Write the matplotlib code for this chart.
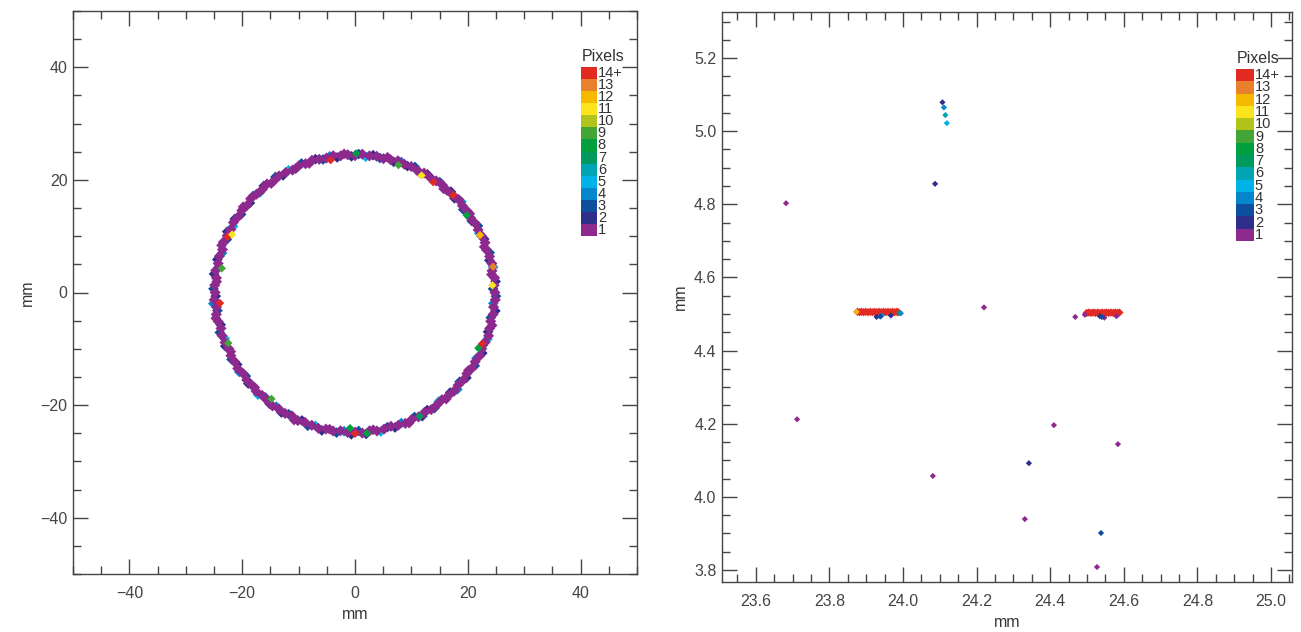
import matplotlib
matplotlib.use('Agg')
import matplotlib.pyplot as plt
from matplotlib.ticker import MultipleLocator, FormatStrFormatter
import numpy as np

plt.rcParams['font.family'] = ['Liberation Sans', 'DejaVu Sans']
plt.rcParams['text.color'] = '#333333'
plt.rcParams['axes.labelcolor'] = '#333333'
plt.rcParams['xtick.color'] = '#444444'
plt.rcParams['ytick.color'] = '#444444'

# colour key: pixel count 1 .. 14+
count_labels = ['1', '2', '3', '4', '5', '6', '7', '8', '9', '10', '11', '12', '13', '14+']
count_colors = ['#8e2a8e', '#2e2f8a', '#0d4f9e', '#0586cc', '#00b2e6', '#00a4b4', '#009a5e',
                '#00a040', '#42a536', '#b0c41a', '#f9e41e', '#f5b900', '#e8802c', '#e02a22']

# left panel: ring of event positions (angle in deg, radius in mm, pixel count)
ringa_angle = [0, 3, 6, 9, 12, 15, 18, 21, 24, 27, 30, 33, 36, 39, 42, 45, 48, 51, 54, 57,
               60, 63, 66, 69, 72, 75, 78, 81, 84, 87, 90, 93, 96, 99, 102, 105, 108, 111, 114, 117,
               120, 123, 126, 129, 132, 135, 138, 141, 144, 147, 150, 153, 156, 159, 162, 165, 168, 171, 174, 177,
               180, 183, 186, 189, 192, 195, 198, 201, 204, 207, 210, 213, 216, 219, 222, 225, 228, 231, 234, 237,
               240, 243, 246, 249, 252, 255, 258, 261, 264, 267, 270, 273, 276, 279, 282, 285, 288, 291, 294, 297,
               300, 303, 306, 309, 312, 315, 318, 321, 324, 327, 330, 333, 336, 339, 342, 345, 348, 351, 354, 357]
ringa_radius = [24.8, 24.7, 24.9, 24.6, 24.8, 24.7, 24.5, 24.7, 24.6, 24.5,
                24.6, 24.4, 24.6, 24.5, 24.7, 24.5, 24.4, 24.6, 24.5, 24.4,
                24.5, 24.3, 24.5, 24.4, 24.6, 24.4, 24.3, 24.5, 24.4, 24.6,
                24.3, 24.5, 24.4, 24.6, 24.4, 24.5, 24.7, 24.5, 24.6, 24.4,
                24.6, 24.7, 24.5, 24.8, 24.6, 24.7, 24.9, 24.6, 24.8, 24.7,
                24.9, 24.7, 24.8, 25.0, 24.7, 24.9, 24.8, 25.0, 24.7, 24.9,
                24.8, 25.0, 24.7, 24.9, 24.8, 24.6, 24.8, 24.7, 24.5, 24.7,
                24.6, 24.8, 24.5, 24.7, 24.6, 24.8, 24.6, 24.7, 24.9, 24.7,
                24.8, 24.6, 24.9, 24.7, 24.8, 25.0, 24.8, 24.9, 24.7, 24.9,
                24.8, 25.0, 24.7, 24.9, 24.8, 24.6, 24.8, 24.9, 24.7, 24.8,
                24.6, 24.8, 24.7, 24.5, 24.7, 24.8, 24.6, 24.7, 24.5, 24.7,
                24.6, 24.8, 24.6, 24.7, 24.9, 24.7, 24.6, 24.8, 24.7, 24.9]

ringb_angle = [1.5, 4.5, 7.5, 10.5, 13.5, 16.5, 19.5, 22.5, 25.5, 28.5, 31.5, 34.5, 37.5, 40.5, 43.5,
               46.5, 49.5, 52.5, 55.5, 58.5, 61.5, 64.5, 67.5, 70.5, 73.5, 76.5, 79.5, 82.5, 85.5, 88.5,
               91.5, 94.5, 97.5, 100.5, 103.5, 106.5, 109.5, 112.5, 115.5, 118.5, 121.5, 124.5, 127.5, 130.5, 133.5,
               136.5, 139.5, 142.5, 145.5, 148.5, 151.5, 154.5, 157.5, 160.5, 163.5, 166.5, 169.5, 172.5, 175.5, 178.5,
               181.5, 184.5, 187.5, 190.5, 193.5, 196.5, 199.5, 202.5, 205.5, 208.5, 211.5, 214.5, 217.5, 220.5, 223.5,
               226.5, 229.5, 232.5, 235.5, 238.5, 241.5, 244.5, 247.5, 250.5, 253.5, 256.5, 259.5, 262.5, 265.5, 268.5,
               271.5, 274.5, 277.5, 280.5, 283.5, 286.5, 289.5, 292.5, 295.5, 298.5, 301.5, 304.5, 307.5, 310.5, 313.5,
               316.5, 319.5, 322.5, 325.5, 328.5, 331.5, 334.5, 337.5, 340.5, 343.5, 346.5, 349.5, 352.5, 355.5, 358.5]
ringb_radius = [24.5, 25.0, 24.4, 24.9, 24.5, 24.9, 24.3, 24.8, 24.4, 24.8,
                24.3, 24.7, 24.2, 24.8, 24.3, 24.7, 24.2, 24.7, 24.3, 24.6,
                24.2, 24.7, 24.3, 24.6, 24.2, 24.7, 24.3, 24.6, 24.2, 24.6,
                24.2, 24.7, 24.2, 24.6, 24.3, 24.7, 24.3, 24.8, 24.4, 24.7,
                24.4, 24.9, 24.4, 24.9, 24.5, 24.9, 24.5, 25.0, 24.5, 25.0,
                24.6, 25.1, 24.6, 25.1, 24.6, 25.1, 24.6, 25.2, 24.6, 25.1,
                24.7, 25.2, 24.6, 25.1, 24.5, 25.0, 24.5, 24.9, 24.4, 24.9,
                24.5, 24.9, 24.4, 24.9, 24.5, 25.0, 24.5, 24.9, 24.6, 25.0,
                24.6, 25.1, 24.6, 25.1, 24.7, 25.2, 24.7, 25.1, 24.7, 25.2,
                24.6, 25.2, 24.6, 25.1, 24.6, 25.0, 24.6, 25.1, 24.5, 25.0,
                24.5, 24.9, 24.4, 24.9, 24.5, 25.0, 24.4, 24.9, 24.4, 24.9,
                24.5, 25.0, 24.5, 24.9, 24.6, 25.0, 24.5, 25.1, 24.6, 25.0]
ringb_count = [3, 2, 1, 4, 2, 3, 1, 2, 5, 3, 2, 1, 3, 4, 2, 2, 1, 3, 5, 2,
               1, 3, 2, 4, 2, 1, 3, 2, 5, 3, 2, 1, 2, 4, 3, 2, 1, 3, 2, 5,
               2, 3, 1, 2, 4, 3, 2, 1, 3, 2, 5, 2, 3, 1, 4, 2, 3, 2, 1, 3,
               2, 4, 3, 1, 2, 3, 5, 2, 1, 3, 2, 4, 3, 2, 1, 5, 3, 2, 4, 2,
               3, 1, 2, 3, 5, 2, 1, 3, 4, 2, 3, 2, 1, 5, 3, 2, 4, 1, 3, 2,
               2, 3, 5, 1, 2, 4, 3, 2, 1, 3, 4, 2, 3, 5, 2, 1, 3, 2, 4, 3]

# high-count events on the ring
hot_angle = [100.4, 44.8, 54.7, 60.4, 24.7, 10.6, 3.0, 335.7, 231.9, 267.9, 270.0, 274.8,
             156.3, 154.7, 169.7, 184.5, 201.8, 89.5, 71.2, 34.7, 297.6, 338.0]
hot_radius = [23.9, 24.5, 24.0, 23.9, 24.4, 24.9, 24.4, 24.0, 24.0, 24.1, 25.1, 25.1,
              24.6, 24.1, 24.0, 24.0, 24.2, 24.7, 23.9, 24.1, 24.8, 24.3]
hot_count = [14, 14, 14, 11, 12, 13, 11, 8, 9, 8, 14, 8,
             14, 11, 9, 14, 9, 8, 9, 8, 7, 14]

# right panel: zoom on two event clusters (x mm, y mm, pixel count)
bar1_x = [23.876, 23.882, 23.887, 23.893, 23.899, 23.905, 23.911, 23.917, 23.923, 23.929,
          23.935, 23.941, 23.947, 23.953, 23.959, 23.965, 23.971, 23.977, 23.983, 23.987]
bar1_y = [4.506, 4.505, 4.506, 4.505, 4.506, 4.505, 4.506, 4.505, 4.506, 4.505,
          4.506, 4.505, 4.506, 4.505, 4.506, 4.505, 4.506, 4.505, 4.506, 4.505]
bar2_x = [24.499, 24.505, 24.511, 24.517, 24.523, 24.529, 24.535, 24.541, 24.547, 24.553,
          24.559, 24.565, 24.571, 24.577, 24.583, 24.588]
bar2_y = [4.503, 4.504, 4.503, 4.504, 4.503, 4.504, 4.503, 4.504, 4.503, 4.504,
          4.503, 4.504, 4.503, 4.504, 4.503, 4.504]

evt_x = [23.874, 23.990, 23.994, 23.928, 23.942, 23.938, 23.967, 24.494, 24.535, 24.547, 24.540, 24.580,
         23.682, 23.712, 24.087, 24.107, 24.111, 24.115, 24.119, 24.081, 24.220, 24.468,
         24.410, 24.342, 24.331, 24.584, 24.538, 24.527]
evt_y = [4.506, 4.503, 4.502, 4.492, 4.496, 4.493, 4.496, 4.498, 4.494, 4.490, 4.492, 4.494,
         4.803, 4.212, 4.856, 5.079, 5.065, 5.044, 5.022, 4.057, 4.518, 4.492,
         4.196, 4.092, 3.939, 4.144, 3.901, 3.808]
evt_count = [12, 7, 4, 2, 4, 3, 2, 1, 2, 1, 3, 1,
             1, 1, 2, 2, 4, 6, 5, 1, 1, 1,
             1, 2, 1, 1, 3, 1]


def col(counts):
    return [count_colors[min(c, 14) - 1] for c in counts]


def frame(ax, xmaj, xmin, ymaj, ymin):
    ax.xaxis.set_major_locator(MultipleLocator(xmaj))
    ax.xaxis.set_minor_locator(MultipleLocator(xmin))
    ax.yaxis.set_major_locator(MultipleLocator(ymaj))
    ax.yaxis.set_minor_locator(MultipleLocator(ymin))
    ax.tick_params(which='both', direction='in', top=True, right=True, width=1, labelsize=11.5)
    ax.tick_params(which='major', length=11)
    ax.tick_params(which='minor', length=6)
    ax.tick_params(axis='x', which='major', pad=9)
    ax.tick_params(axis='y', which='major', pad=4)
    for s in ax.spines.values():
        s.set_color('#444444')
        s.set_linewidth(1)
    ax.set_xlabel('mm', fontsize=11.5, labelpad=4)
    ax.set_ylabel('mm', fontsize=11.5, labelpad=4)


def key(fig, rect):
    kx = fig.add_axes(rect)
    kx.set_xlim(0, 1)
    kx.set_ylim(0, 14)
    kx.axis('off')
    for i in range(14):
        kx.bar(0.5, 1, bottom=i, width=1, color=count_colors[i], edgecolor='none')
        kx.text(1.05, i + 0.5, count_labels[i], fontsize=10.5, va='center', ha='left',
                color='#333333', clip_on=False)
    kx.text(0.05, 14.25, 'Pixels', fontsize=11.5, va='bottom', ha='left', color='#333333')


W, H = 1301, 632
fig = plt.figure(figsize=(W / 100, H / 100), dpi=100)

ax1 = fig.add_axes([73 / W, (H - 574) / H, 564 / W, 563 / H])
ta = np.radians(ringb_angle)
ax1.scatter(np.array(ringb_radius) * np.cos(ta), np.array(ringb_radius) * np.sin(ta),
            s=30, marker='D', c=col(ringb_count), linewidths=0, zorder=2)
ta = np.radians(ringa_angle)
ax1.scatter(np.array(ringa_radius) * np.cos(ta), np.array(ringa_radius) * np.sin(ta),
            s=32, marker='D', c=col([1] * len(ringa_angle)), linewidths=0, zorder=3)
ta = np.radians(hot_angle)
ax1.scatter(np.array(hot_radius) * np.cos(ta), np.array(hot_radius) * np.sin(ta),
            s=18, marker='D', c=col(hot_count), linewidths=0, zorder=4)
ax1.set_xlim(-50, 50)
ax1.set_ylim(-50, 50)
frame(ax1, 20, 5, 20, 5)

ax2 = fig.add_axes([722 / W, (H - 582) / H, 570 / W, 570 / H])
ax2.scatter(bar1_x, bar1_y, s=18, marker='D', c=col([14] * len(bar1_x)), linewidths=0, zorder=3)
ax2.scatter(bar2_x, bar2_y, s=18, marker='D', c=col([14] * len(bar2_x)), linewidths=0, zorder=3)
ax2.scatter(evt_x, evt_y, s=10, marker='D', c=col(evt_count), linewidths=0, zorder=4)
ax2.set_xlim(23.508, 25.057)
ax2.set_ylim(3.767, 5.326)
frame(ax2, 0.2, 0.05, 0.2, 0.05)
ax2.xaxis.set_major_formatter(FormatStrFormatter('%.1f'))
ax2.yaxis.set_major_formatter(FormatStrFormatter('%.1f'))

key(fig, [581 / W, (H - 236) / H, 16 / W, 169 / H])
key(fig, [1236 / W, (H - 241) / H, 18 / W, 172 / H])

fig.savefig('out.png', dpi=100)
